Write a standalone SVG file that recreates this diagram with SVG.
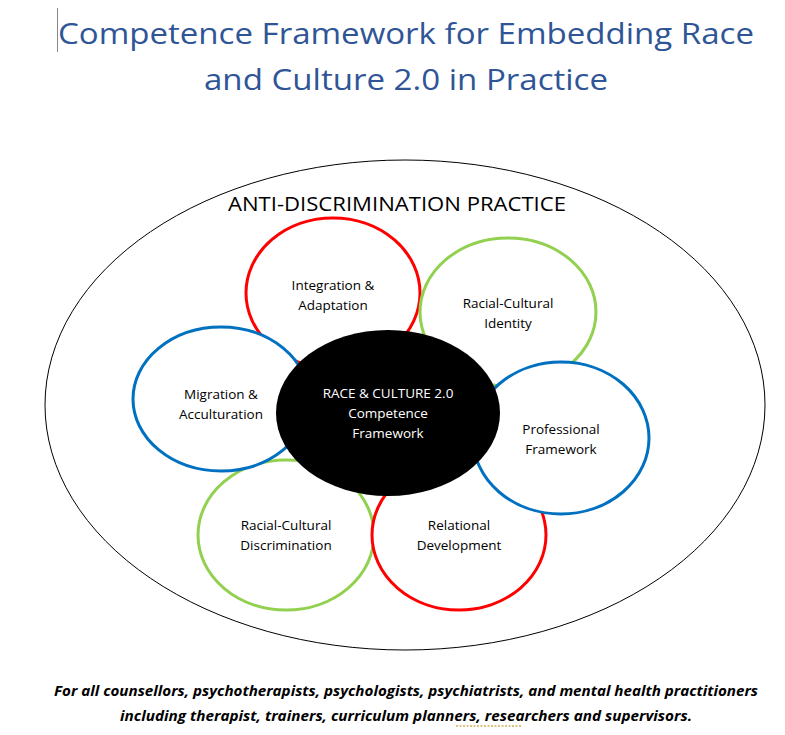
<svg xmlns="http://www.w3.org/2000/svg" width="785" height="735" viewBox="0 0 785 735">
<style>
.c{fill:#fff;stroke-width:3}
.r{stroke:#f00}.g{stroke:#92d050}.b{stroke:#0070c0}
.t{font-family:"Open Sans","Liberation Sans",sans-serif;font-size:13.5px;text-anchor:middle;fill:#000}
.ti{font-family:"Open Sans","Liberation Sans",sans-serif;font-size:30px;fill:#2f5597;text-anchor:middle}
.f{font-family:"Open Sans","Liberation Sans",sans-serif;font-size:14px;font-style:italic;font-weight:bold;text-anchor:middle}
</style>
<rect width="785" height="735" fill="#fff"/>
<line x1="57.5" y1="8" x2="57.5" y2="52" stroke="#888" stroke-width="1"/>
<text class="ti" x="406" y="44" textLength="696" lengthAdjust="spacingAndGlyphs">Competence Framework for Embedding Race</text>
<text class="ti" x="406" y="90" textLength="404" lengthAdjust="spacingAndGlyphs">and Culture 2.0 in Practice</text>
<g id="outer"><ellipse cx="405" cy="405" rx="360" ry="245" fill="#fff" stroke="#000" stroke-width="1"/>
<text class="t" x="397" y="211" style="font-size:20px" textLength="338" lengthAdjust="spacingAndGlyphs">ANTI-DISCRIMINATION PRACTICE</text></g>
<g id="integration"><ellipse class="c r" cx="333" cy="293" rx="87" ry="75"/><text class="t" x="333" y="290">Integration &amp;</text><text class="t" x="333" y="310">Adaptation</text></g>
<g id="identity"><ellipse class="c g" cx="508" cy="312" rx="88" ry="74"/><text class="t" x="508" y="308">Racial-Cultural</text><text class="t" x="508" y="328">Identity</text></g>
<g id="discrimination"><ellipse class="c g" cx="286" cy="535" rx="88" ry="75"/><text class="t" x="286" y="530">Racial-Cultural</text><text class="t" x="286" y="550">Discrimination</text></g>
<g id="relational"><ellipse class="c r" cx="459" cy="535" rx="87" ry="75"/><text class="t" x="459" y="530">Relational</text><text class="t" x="459" y="550">Development</text></g>
<g id="migration"><ellipse class="c b" cx="221" cy="399" rx="88" ry="72"/><text class="t" x="221" y="399">Migration &amp;</text><text class="t" x="221" y="419">Acculturation</text></g>
<g id="professional"><ellipse class="c b" cx="561" cy="438" rx="88" ry="76"/><text class="t" x="561" y="434">Professional</text><text class="t" x="561" y="454">Framework</text></g>
<g id="center"><ellipse cx="388" cy="413" rx="112" ry="83" fill="#000"/>
<text class="t" x="388" y="398" style="fill:#fff">RACE &amp; CULTURE 2.0</text>
<text class="t" x="388" y="418" style="fill:#fff">Competence</text>
<text class="t" x="388" y="438" style="fill:#fff">Framework</text></g>
<g id="connectors"/>
<text class="f" x="406" y="696" textLength="704" lengthAdjust="spacingAndGlyphs">For all counsellors, psychotherapists, psychologists, psychiatrists, and mental health practitioners</text>
<text class="f" x="406" y="721" textLength="572" lengthAdjust="spacingAndGlyphs">including therapist, trainers, curriculum planners, researchers and supervisors.</text>
<line x1="456" y1="726" x2="521" y2="726" stroke="#b8860b" stroke-width="1.2" stroke-dasharray="2,1.5"/>
</svg>
